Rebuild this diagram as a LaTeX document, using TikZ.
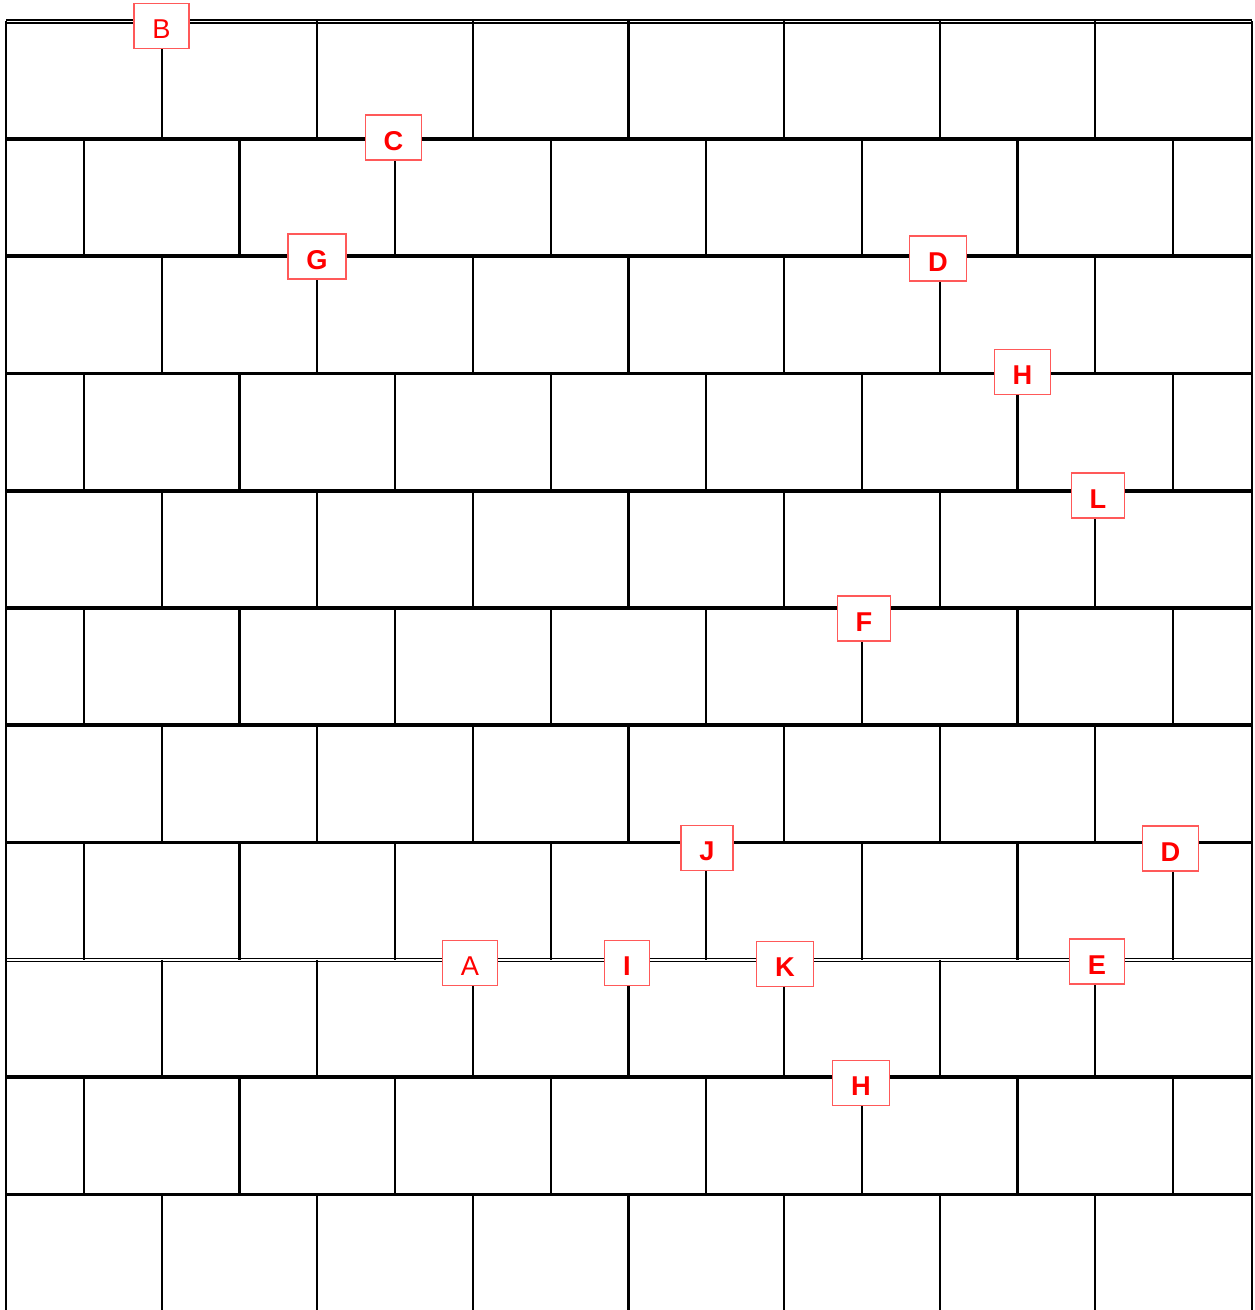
\documentclass[tikz,border=0pt]{standalone}
\usepackage{fontspec}
\setmainfont{Liberation Sans}
\usetikzlibrary{calc}
\tikzset{
	wallJoint/.style={line width=2.1pt},
	wallPerp/.style={line width=1.25pt},
	wallDouble/.style={line width=1pt, double, double distance=0.75pt},
	brickTag/.style={
		draw=red!65,
		fill=white,
		line width=0.7pt,
		text=red,
		inner xsep=0.37cm,
		inner ysep=0pt,
		text height=14.4pt,
		text depth=0pt,
		minimum height=0.9cm,
		font=\fontsize{15.5}{17}\selectfont\bfseries
	},
	brickTagPlain/.style={brickTag, font=\fontsize{15.5}{17}\selectfont}
}
\begin{document}
\begin{tikzpicture}[x=0.02cm, y=-0.02cm]

			\useasboundingbox (0,0) rectangle (1254,1310);

			% Bed joints
			\foreach \r in {1,...,7,9,10}
				\draw[wallJoint] (6,21.5+117.3*\r) -- (1252,21.5+117.3*\r);
			\draw[wallDouble] (6,21.5) -- (1252,21.5);
			\draw[wallDouble] (6,960) -- (1252,960);

			% Head joints, courses in stretcher bond
			\foreach \r in {0,2,...,10}
				\foreach \k in {0,...,6}
					\draw[wallPerp] (161.6+155.6*\k,21.5+117.3*\r) -- ++(0,117.3);
			\foreach \r in {1,3,...,9}
				\foreach \k in {0,...,7}
					\draw[wallPerp] (83.8+155.6*\k,21.5+117.3*\r) -- ++(0,117.3);

			% Edges
			\draw[wallPerp] (6,21.5) -- (6,1310);
			\draw[wallPerp] (1252,21.5) -- (1252,1310);

			% Tags
			\node[brickTagPlain] (tagB) at (161.5,26.3) {B};
			\node[brickTag] (tagC) at (393.5,137.5) {C};
			\node[brickTag] (tagG) at (317,256.5) {G};
			\node[brickTag] (tagDa) at (938,258.5) {D};
			\node[brickTag] (tagHa) at (1022.5,372) {H};
			\node[brickTag] (tagL) at (1098,495.5) {L};
			\node[brickTag] (tagF) at (864,618.5) {F};
			\node[brickTag] (tagJ) at (707,848) {J};
			\node[brickTag] (tagDb) at (1170.5,848.5) {D};
			\node[brickTagPlain] (tagA) at (470,963) {A};
			\node[brickTag] (tagI) at (627,963) {I};
			\node[brickTag] (tagK) at (785,964) {K};
			\node[brickTag] (tagE) at (1097,961.5) {E};
			\node[brickTag] (tagHb) at (861,1083) {H};

		\end{tikzpicture}
\end{document}
